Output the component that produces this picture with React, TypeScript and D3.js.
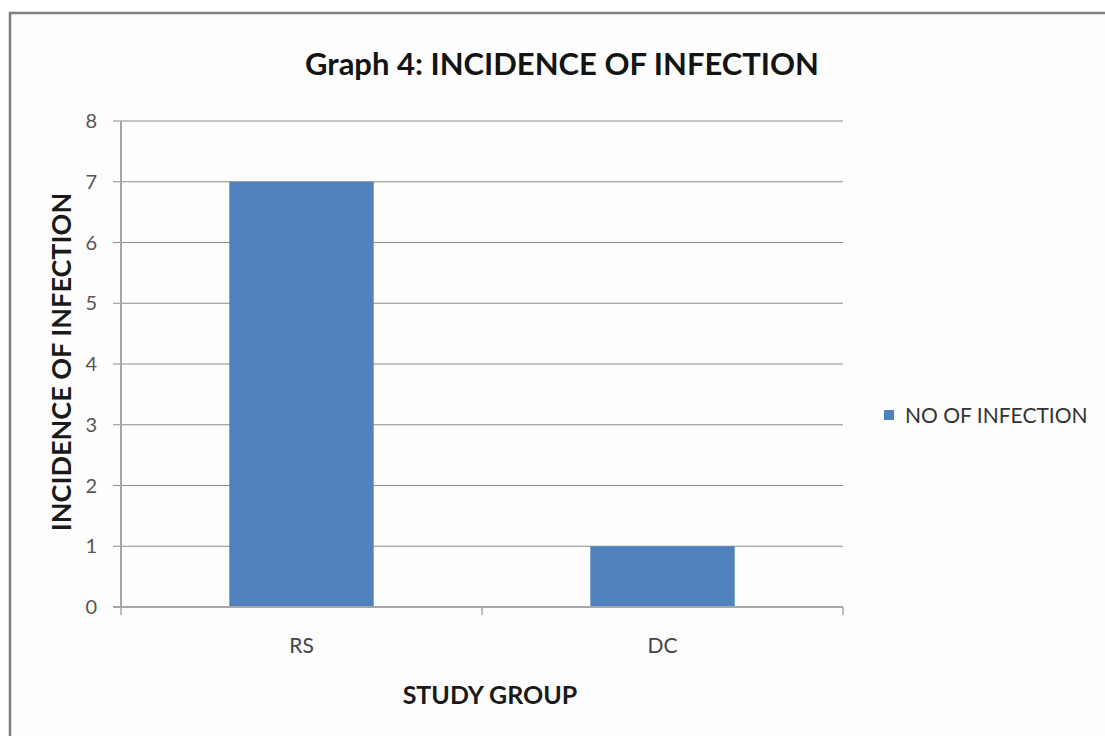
import React from "react";
import * as d3 from "d3";

const categories = ["RS", "DC"];
const infections = [7, 1];
const yTicks = [0, 1, 2, 3, 4, 5, 6, 7, 8];
const seriesName = "NO OF INFECTION";
const chartTitle = "Graph 4: INCIDENCE OF INFECTION";
const xTitle = "STUDY GROUP";
const yTitle = "INCIDENCE OF INFECTION";

const W = 1105;
const H = 736;
const plot = { left: 121, right: 843, top: 121, bottom: 607 };
const barColor = "#4f81bd";
const font = "Lato, 'Open Sans', sans-serif";

export default function App() {
  const x = d3
    .scaleBand<string>()
    .domain(categories)
    .range([plot.left, plot.right])
    .padding(0);
  const y = d3.scaleLinear().domain([0, 8]).range([plot.bottom, plot.top]);
  const barW = x.bandwidth() * 0.4;

  const catBounds = [plot.left, ...categories.map((c) => (x(c) as number) + x.bandwidth())];

  return (
    <svg
      width={W}
      height={H}
      style={{ position: "absolute", left: 0, top: 0, background: "#fff" }}
      fontFamily={font}
    >
      {/* chart frame */}
      <rect x={10} y={13} width={W + 20} height={H + 20} fill="#fdfdfd" stroke="#7f7f7f" strokeWidth={2.5} />

      <text x={562} y={75} textAnchor="middle" fontSize={31} fontWeight={700} fill="#141414">
        {chartTitle}
      </text>

      {/* gridlines */}
      {yTicks.map((t) => (
        <line
          key={"g" + t}
          x1={plot.left - 8}
          x2={plot.right}
          y1={y(t)}
          y2={y(t)}
          stroke={t === 0 ? "#a6a6a6" : "#8c8c8c"}
          strokeWidth={t === 0 ? 2 : 1.2}
        />
      ))}

      {/* y axis line */}
      <line x1={plot.left} x2={plot.left} y1={plot.top} y2={plot.bottom} stroke="#a6a6a6" strokeWidth={2} />

      {/* y tick labels */}
      {yTicks.map((t) => (
        <text key={"yl" + t} x={97} y={y(t)} dy="0.35em" textAnchor="end" fontSize={20} fill="#555">
          {t}
        </text>
      ))}

      {/* bars */}
      {categories.map((c, i) => {
        const cx = (x(c) as number) + x.bandwidth() / 2;
        return (
          <rect
            key={c}
            x={cx - barW / 2}
            y={y(infections[i])}
            width={barW}
            height={y(0) - y(infections[i])}
            fill={barColor}
          />
        );
      })}

      {/* x axis line and category ticks */}
      <line x1={plot.left} x2={plot.right} y1={plot.bottom} y2={plot.bottom} stroke="#a6a6a6" strokeWidth={2} />
      {catBounds.map((b, i) => (
        <line key={"xt" + i} x1={b} x2={b} y1={plot.bottom} y2={plot.bottom + 8} stroke="#a6a6a6" strokeWidth={1.5} />
      ))}

      {/* category labels */}
      {categories.map((c) => (
        <text
          key={"xl" + c}
          x={(x(c) as number) + x.bandwidth() / 2}
          y={646}
          dy="0.35em"
          textAnchor="middle"
          fontSize={21}
          fill="#444"
        >
          {c}
        </text>
      ))}

      {/* axis titles */}
      <text x={490} y={695} dy="0.35em" textAnchor="middle" fontSize={25} fontWeight={700} fill="#1a1a1a">
        {xTitle}
      </text>
      <text
        transform={`translate(62,362) rotate(-90)`}
        dy="0.35em"
        textAnchor="middle"
        fontSize={27}
        fontWeight={700}
        fill="#1a1a1a"
      >
        {yTitle}
      </text>

      {/* legend */}
      <rect x={884} y={410} width={10} height={10} fill={barColor} />
      <text x={905} y={416} dy="0.35em" fontSize={21} fill="#333">
        {seriesName}
      </text>
    </svg>
  );
}
